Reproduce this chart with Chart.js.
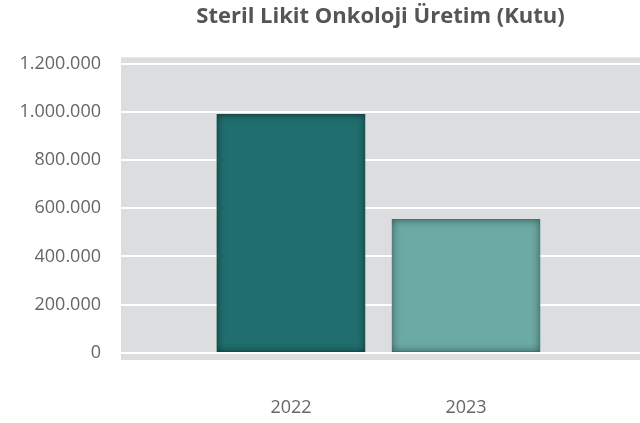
<!DOCTYPE html>
<html>
<head>
<meta charset="utf-8">
<script src="https://cdn.jsdelivr.net/npm/chart.js@4/dist/chart.umd.min.js"></script>
<style>
  html, body { margin: 0; padding: 0; background: #fff; }
  #wrap { width: 640px; height: 423px; }
</style>
</head>
<body>
<div id="wrap"><canvas id="grafica"></canvas></div>
<script>
const years = ["2022", "2023"]
const positions = [0, 1]
const boxes = [990000, 554000]
const yTicks = [0, 200000, 400000, 600000, 800000, 1000000, 1200000]

const barColors = ['#206f6e', '#6caaa5']

// gray plot background behind the grid
const plotBg = {
    id: 'plotBg',
    beforeDraw(chart) {
        const a = chart.chartArea
        const ctx = chart.ctx
        ctx.save()
        ctx.fillStyle = '#dcdddf'
        ctx.fillRect(a.left, a.top, a.right - a.left, a.bottom - a.top)
        ctx.restore()
    }
}

// soft inner shadow on each bar
const innerShadow = {
    id: 'innerShadow',
    afterDatasetsDraw(chart) {
        const ctx = chart.ctx
        chart.getDatasetMeta(0).data.forEach(bar => {
            const p = bar.getProps(['x', 'y', 'base', 'width'], true)
            const x = p.x - p.width / 2
            const y = Math.min(p.y, p.base)
            const h = Math.abs(p.base - p.y)
            ctx.save()
            ctx.beginPath()
            ctx.rect(x, y, p.width, h)
            ctx.clip()
            ctx.shadowColor = 'rgba(0,0,0,0.5)'
            ctx.shadowBlur = 9
            ctx.strokeStyle = '#000'
            ctx.lineWidth = 20
            ctx.strokeRect(x - 10, y - 10, p.width + 20, h + 20)
            ctx.restore()
        })
    }
}

const graph = document.querySelector("#grafica")

new Chart(graph, {
    type: 'bar',
    data: {
        datasets: [{
            data: positions.map((p, i) => ({ x: p, y: boxes[i] })),
            backgroundColor: barColors,
            barThickness: 148
        }]
    },
    options: {
        responsive: true,
        maintainAspectRatio: false,
        animation: false,
        layout: { padding: 0 },
        plugins: {
            legend: { display: false },
            tooltip: { enabled: false },
            title: {
                display: true,
                fullSize: false,
                text: 'Steril Likit Onkoloji Üretim (Kutu)',
                color: '#555555',
                font: { family: 'Open Sans', size: 22, weight: 'bold' },
                padding: { top: 4, bottom: 27 }
            }
        },
        scales: {
            x: {
                type: 'linear',
                offset: false,
                min: -0.971,
                max: 1.994,
                grid: { display: false, offset: false },
                border: { display: false },
                afterBuildTicks: s => { s.ticks = positions.map(v => ({ value: v })) },
                afterFit: s => { s.height = 63 },
                ticks: {
                    padding: 29,
                    color: '#666666',
                    font: { family: 'Open Sans', size: 18 },
                    callback: (v) => years[positions.indexOf(v)]
                }
            },
            y: {
                min: -30000,
                max: 1227000,
                grid: { color: '#ffffff', lineWidth: 2, drawTicks: false },
                border: { display: false },
                afterBuildTicks: s => { s.ticks = yTicks.map(v => ({ value: v })) },
                afterFit: s => { s.width = 121 },
                ticks: {
                    padding: 20,
                    color: '#666666',
                    font: { family: 'Open Sans', size: 18 },
                    callback: v => v.toLocaleString('de-DE')
                }
            }
        }
    },
    plugins: [plotBg, innerShadow]
})
</script>
</body>
</html>
